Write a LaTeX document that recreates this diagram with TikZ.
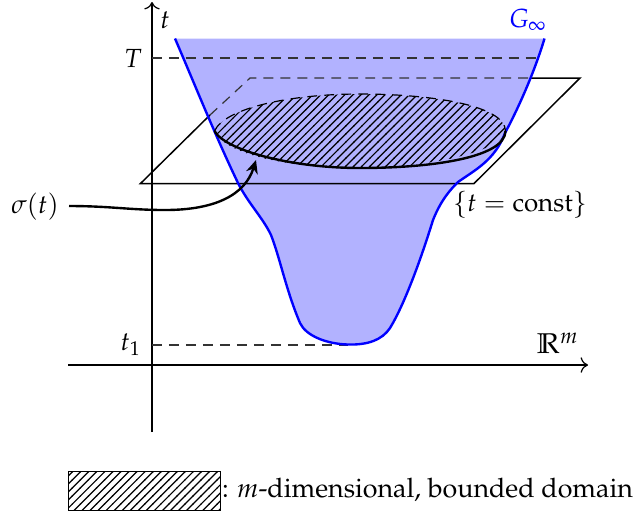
\documentclass[tikz,border=0pt]{standalone}
\usepackage[T1]{fontenc}
\usepackage{amssymb}
\usepackage{mathpazo}
\usetikzlibrary{patterns,arrows.meta}
\definecolor{gfill}{RGB}{178,178,255}
\pgfdeclarepatternformonly{nel}{\pgfqpoint{-1pt}{-1pt}}{\pgfqpoint{3.7pt}{3.7pt}}{\pgfqpoint{2.7pt}{2.7pt}}{\pgfsetlinewidth{0.4pt}\pgfpathmoveto{\pgfqpoint{-0.1pt}{-0.1pt}}\pgfpathlineto{\pgfqpoint{2.8pt}{2.8pt}}\pgfusepath{stroke}}
\tikzset{
  axis/.style={draw=black,line width=0.4pt,->},
  guide/.style={draw=black!80,line width=0.4pt,dash pattern=on 3.3pt off 2.4pt},
  bdry/.style={draw=blue,line width=0.8pt},
  plane/.style={draw=black,line width=0.5pt},
  hatch/.style={pattern=nel},
  lab/.style={inner sep=0pt,outer sep=0pt,font=\fontsize{8.8}{10.5}\selectfont}
}
\newcommand{\gcurve}{(175,38.5) .. controls (195,85) and (215,135) .. (238,183)
 .. controls (248,203) and (263,218) .. (271,235)
 .. controls (280,258) and (286,290) .. (300,323)
 .. controls (306,336) and (327,344) .. (348,344.5)
 .. controls (368,345) and (382,340) .. (390,328)
 .. controls (404,305) and (420,262) .. (433,220)
 .. controls (441,200) and (450,190) .. (458,182)
 .. controls (475,170) and (495,160) .. (505,133)
 .. controls (520,105) and (535,70) .. (544.5,38.5)}
\begin{document}
\begin{tikzpicture}[x=0.3356pt,y=-0.3356pt]
\useasboundingbox (0,0) rectangle (638,512);
% domain
\fill[gfill] \gcurve -- cycle;
% plane
\coordinate (pa) at (140.5,183.5);
\coordinate (pb) at (474,183.5);
\coordinate (pc) at (580,78);
\coordinate (pd) at (250,78);
\coordinate (pe) at (210,115);
\coordinate (pf) at (530,78);
\draw[plane] (pe) -- (pa) -- (pb) -- (pc) -- (pf);
\draw[guide] (pe) -- (pd) -- (pf);
% axes
\coordinate (xs) at (68,365);
\coordinate (xe) at (588,365);
\coordinate (ys) at (152,432);
\coordinate (ye) at (152,2);
\draw[axis] (xs) -- (xe);
\draw[axis] (ys) -- (ye);
% guide lines
\coordinate (tT) at (152,58);
\coordinate (tTe) at (538,58);
\coordinate (t1s) at (152,345);
\coordinate (t1e) at (348,345);
\draw[guide] (tT) -- (tTe);
\draw[guide] (t1s) -- (t1e);
% boundary
\draw[bdry] \gcurve;
% ellipse
\coordinate (el) at (214.5,131);
\coordinate (er) at (505.5,131);
\path[hatch] (el) .. controls (225,108) and (290,94) .. (360,94) .. controls (430,94) and (505,105) .. (er) .. controls (505,150) and (430,168) .. (360,168) .. controls (290,168) and (225,155) .. (el) -- cycle;
\draw[guide,draw=black] (el) .. controls (225,108) and (290,94) .. (360,94) .. controls (430,94) and (505,105) .. (er);
\draw[line width=0.8pt] (el) .. controls (225,150) and (290,168) .. (360,168) .. controls (430,168) and (505,158) .. (er);
% labels
\node[lab] (lt) at (165,20) {$t$};
\node[lab,text=blue] (lg) at (528,20) {$G_\infty$};
\node[lab] (lT) at (133,58) {$T$};
\node[lab] (lt1) at (131,345) {$t_1$};
\node[lab,font=\fontsize{9.6}{11}\selectfont] (lr) at (558,343) {$\mathbb{R}^m$};
\node[lab] (ls) at (35,207) {$\sigma(t)$};
\node[lab,font=\fontsize{8.7}{10.5}\selectfont] (lc) at (520,205) {$\{t=\mathrm{const}\}$};
% arrow
\coordinate (st) at (256,160);
\coordinate (sa) at (69,206);
\draw[line width=0.8pt,-{Stealth[length=4.5pt,width=4pt]}] (sa) .. controls (110,206) and (130,210) .. (165,210) .. controls (215,210) and (245,195) .. (st);
% legend
\node[draw=black,line width=0.4pt,hatch,minimum width=51pt,minimum height=13pt,inner sep=0pt,anchor=north west] (box) at (68,471) {};
\node[lab,anchor=west,font=\fontsize{9}{11}\selectfont] (leg) at (222,490) {: $m$-dimensional, bounded domain};
\end{tikzpicture}
\end{document}
